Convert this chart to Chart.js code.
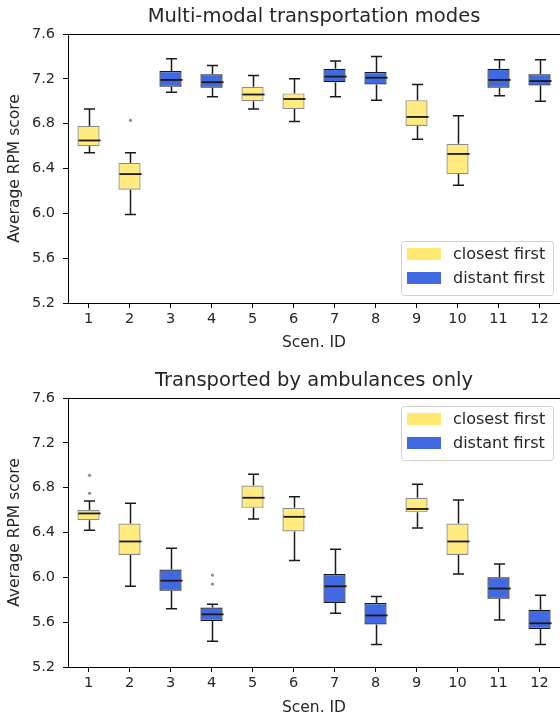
<!DOCTYPE html>
<html>
<head>
<meta charset="utf-8">
<script src="https://cdn.jsdelivr.net/npm/chart.js@4.4.1/dist/chart.umd.min.js"></script>
<style>
  html, body { margin: 0; padding: 0; background: #fff; }
  #wrap { position: relative; width: 560px; height: 721px; overflow: hidden; }
  canvas { position: absolute; left: 0; }
  #c1 { top: 0; }
  #c2 { top: 360px; }
</style>
</head>
<body>
<div id="wrap">
  <canvas id="c1" width="560" height="360"></canvas>
  <canvas id="c2" width="560" height="361"></canvas>
</div>
<script>
// 场景与策略
const scenLabels = ['1', '2', '3', '4', '5', '6', '7', '8', '9', '10', '11', '12'];
const strategy = ['closest', 'closest', 'distant', 'distant', 'closest', 'closest',
                  'distant', 'distant', 'closest', 'closest', 'distant', 'distant'];
const yTicks = [5.2, 5.6, 6.0, 6.4, 6.8, 7.2, 7.6];

// Multi-modal transportation modes
const multiLow  = [6.54, 5.99, 7.08, 7.04, 6.93, 6.82, 7.04, 7.01, 6.66, 6.25, 7.05, 7.00];
const multiQ1   = [6.60, 6.21, 7.13, 7.12, 7.00, 6.93, 7.17, 7.15, 6.78, 6.35, 7.12, 7.14];
const multiMed  = [6.65, 6.35, 7.19, 7.17, 7.06, 7.02, 7.22, 7.21, 6.86, 6.53, 7.19, 7.18];
const multiQ3   = [6.78, 6.45, 7.27, 7.24, 7.13, 7.07, 7.29, 7.26, 7.01, 6.62, 7.29, 7.24];
const multiHigh = [6.93, 6.54, 7.38, 7.32, 7.23, 7.20, 7.36, 7.40, 7.15, 6.87, 7.37, 7.37];
const multiOut  = [[], [6.83], [], [], [], [], [], [], [], [], [], []];

// Transported by ambulances only
const ambLow  = [6.42, 5.92, 5.72, 5.43, 6.52, 6.15, 5.68, 5.40, 6.44, 6.03, 5.62, 5.40];
const ambQ1   = [6.51, 6.20, 5.88, 5.61, 6.62, 6.41, 5.77, 5.58, 6.58, 6.20, 5.81, 5.54];
const ambMed  = [6.57, 6.32, 5.97, 5.67, 6.71, 6.54, 5.92, 5.66, 6.61, 6.32, 5.90, 5.59];
const ambQ3   = [6.60, 6.48, 6.07, 5.73, 6.82, 6.62, 6.03, 5.77, 6.71, 6.48, 6.00, 5.71];
const ambHigh = [6.68, 6.66, 6.26, 5.76, 6.92, 6.72, 6.25, 5.83, 6.83, 6.69, 6.12, 5.84];
const ambOut  = [[6.91, 6.75], [], [], [6.02, 5.94], [], [], [], [], [], [], [], []];

const seriesNames = { closest: 'closest first', distant: 'distant first' };
const fillColors = { closest: 'rgba(255, 215, 0, 0.5)', distant: 'rgba(65, 105, 225, 1)' };
const edgeColors = { closest: 'rgba(0, 0, 0, 0.45)', distant: 'rgba(0, 0, 0, 0.9)' };

const FONT = '"DejaVu Sans", "Liberation Sans", sans-serif';
const TEXT = '#262626';
const BAR_PCT = 0.54;

// 箱线图的须、中位线、离群点、外框、标题和图例
const boxExtras = {
    id: 'boxExtras',
    afterDatasetsDraw(chart, args, opts) {
        const { ctx, chartArea, scales } = chart;
        const x = scales.x, y = scales.y;
        const step = x.getPixelForValue(1) - x.getPixelForValue(0);
        const half = step * BAR_PCT / 2;
        const cap = half * 0.5;
        ctx.save();
        ctx.strokeStyle = '#1a1a1a';
        for (let j = 0; j < scenLabels.length; j++) {
            const cx = Math.round(x.getPixelForValue(j)) + 0.5;
            const yl = y.getPixelForValue(opts.low[j]);
            const y1 = y.getPixelForValue(opts.q1[j]);
            const y3 = y.getPixelForValue(opts.q3[j]);
            const yh = y.getPixelForValue(opts.high[j]);
            const ym = y.getPixelForValue(opts.med[j]);
            ctx.lineWidth = 1.5;
            ctx.beginPath();
            ctx.moveTo(cx, y1); ctx.lineTo(cx, yl);
            ctx.moveTo(cx, y3); ctx.lineTo(cx, yh);
            ctx.moveTo(cx - cap, yl); ctx.lineTo(cx + cap, yl);
            ctx.moveTo(cx - cap, yh); ctx.lineTo(cx + cap, yh);
            ctx.stroke();
            ctx.lineWidth = 1.8;
            ctx.beginPath();
            ctx.moveTo(cx - half, ym); ctx.lineTo(cx + half, ym);
            ctx.stroke();
            ctx.fillStyle = 'rgba(110, 110, 110, 0.8)';
            opts.out[j].forEach(v => {
                ctx.beginPath();
                ctx.arc(cx, y.getPixelForValue(v), 1.6, 0, Math.PI * 2);
                ctx.fill();
            });
        }
        // 上边框
        ctx.strokeStyle = '#000';
        ctx.lineWidth = 1;
        ctx.beginPath();
        ctx.moveTo(chartArea.left, chartArea.top + 0.5);
        ctx.lineTo(chartArea.right, chartArea.top + 0.5);
        ctx.stroke();

        // 标题
        ctx.fillStyle = TEXT;
        ctx.font = '19.5px ' + FONT;
        ctx.textAlign = 'center';
        ctx.textBaseline = 'alphabetic';
        ctx.fillText(opts.title, (chartArea.left + chartArea.right) / 2, chartArea.top - opts.titleGap);

        // 图例
        const lw = 152, lh = 54;
        const lx = chartArea.right - 7 - lw;
        const ly = opts.legendPos === 'lower' ? chartArea.bottom - 8 - lh : chartArea.top + 8;
        ctx.fillStyle = 'rgba(255,255,255,0.85)';
        ctx.strokeStyle = '#d0d0d0';
        ctx.beginPath();
        ctx.roundRect(lx + 0.5, ly + 0.5, lw, lh, 3);
        ctx.fill();
        ctx.stroke();
        ['closest', 'distant'].forEach((k, i) => {
            const ry = ly + 7 + i * 24;
            ctx.fillStyle = k === 'closest' ? 'rgba(255, 215, 0, 0.55)' : 'rgba(65, 105, 225, 1)';
            ctx.fillRect(lx + 6, ry, 34, 12);
            ctx.fillStyle = TEXT;
            ctx.font = '16px ' + FONT;
            ctx.textAlign = 'left';
            ctx.textBaseline = 'middle';
            ctx.fillText(seriesNames[k], lx + 52, ry + 6.5);
        });
        ctx.restore();
    }
};

function boxData(q1, q3, key) {
    return scenLabels.map((_, j) => strategy[j] === key ? [q1[j], q3[j]] : null);
}

function makeChart(id, title, q1, med, q3, low, high, out, legendPos, lay) {
    const ctx = document.getElementById(id).getContext('2d');
    const datasets = ['closest', 'distant'].map(k => ({
        label: seriesNames[k],
        data: boxData(q1, q3, k),
        backgroundColor: fillColors[k],
        borderColor: edgeColors[k],
        borderWidth: 1.2,
        borderSkipped: false,
        grouped: false,
        barPercentage: BAR_PCT,
        categoryPercentage: 1.0
    }));
    return new Chart(ctx, {
        type: 'bar',
        data: { labels: scenLabels, datasets: datasets },
        options: {
            responsive: false,
            animation: false,
            devicePixelRatio: 1,
            layout: { padding: { top: lay.top, left: 0, right: 0, bottom: 0 } },
            scales: {
                x: {
                    grid: { offset: false, drawOnChartArea: false, drawTicks: true, tickLength: 5, color: '#000' },
                    border: { display: true, color: '#000', width: 1 },
                    ticks: { color: TEXT, font: { family: FONT, size: 14.5 }, padding: 3, maxRotation: 0 },
                    title: { display: true, text: 'Scen. ID', color: TEXT, font: { family: FONT, size: 15.5 }, padding: { top: 0, bottom: lay.xTitleBottom } },
                    afterFit: s => { s.height = lay.xHeight; }
                },
                y: {
                    min: 5.2,
                    max: 7.6,
                    afterBuildTicks: s => { s.ticks = yTicks.map(v => ({ value: v })); },
                    grid: { drawOnChartArea: false, drawTicks: true, tickLength: 5, color: '#000' },
                    border: { display: true, color: '#000', width: 1 },
                    ticks: { color: TEXT, font: { family: FONT, size: 14.5 }, padding: 8, callback: v => Number(v).toFixed(1) },
                    title: { display: true, text: 'Average RPM score', color: TEXT, font: { family: FONT, size: 15.5 }, padding: { top: 6, bottom: 0 } },
                    afterFit: s => { s.width = 68; }
                }
            },
            plugins: {
                legend: { display: false },
                title: { display: false },
                tooltip: { enabled: false },
                boxExtras: { title: title, q1: q1, med: med, q3: q3, low: low, high: high, out: out, legendPos: legendPos, titleGap: lay.titleGap }
            }
        },
        plugins: [boxExtras]
    });
}

makeChart('c1', 'Multi-modal transportation modes', multiQ1, multiMed, multiQ3, multiLow, multiHigh, multiOut, 'lower',
          { top: 34, xHeight: 57, xTitleBottom: 7.5, titleGap: 12 });
makeChart('c2', 'Transported by ambulances only', ambQ1, ambMed, ambQ3, ambLow, ambHigh, ambOut, 'upper',
          { top: 38, xHeight: 54, xTitleBottom: 3.5, titleGap: 12 });
</script>
</body>
</html>
